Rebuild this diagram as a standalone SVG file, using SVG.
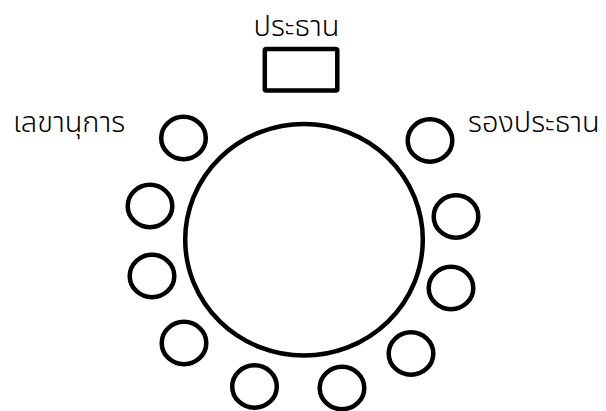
<svg xmlns="http://www.w3.org/2000/svg" width="606" height="411" viewBox="0 0 606 411">
<style>
.seat{fill:none;stroke:#000;stroke-width:4.5}
.lbl{font-family:"Noto Sans Thai","Noto Sans","DejaVu Sans",sans-serif;font-size:29px;font-weight:300;fill:#000}
</style>
<rect width="606" height="411" fill="#fff"/>
<g id="table"><ellipse cx="304" cy="239.7" rx="118.8" ry="115.8" class="seat"/></g>
<g id="chair-president"><rect x="264.8" y="49" width="72.5" height="41.5" rx="1.5" class="seat"/></g>
<g id="label-president"><text x="296.5" y="36" text-anchor="middle" class="lbl">ประธาน</text></g>
<g id="label-secretary"><text x="13" y="132" class="lbl">เลขานุการ</text></g>
<g id="label-vice"><text x="468" y="132" class="lbl">รองประธาน</text></g>
<g id="seat1"><ellipse cx="183.5" cy="138" rx="22.3" ry="21.2" class="seat"/></g>
<g id="seat2"><ellipse cx="150" cy="206" rx="22.3" ry="21.2" class="seat"/></g>
<g id="seat3"><ellipse cx="152" cy="276" rx="22.3" ry="21.2" class="seat"/></g>
<g id="seat4"><ellipse cx="184" cy="343" rx="22.3" ry="21.2" class="seat"/></g>
<g id="seat5"><ellipse cx="254.5" cy="386.5" rx="22.3" ry="21.2" class="seat"/></g>
<g id="seat6"><ellipse cx="342" cy="388" rx="22.3" ry="21.2" class="seat"/></g>
<g id="seat7"><ellipse cx="411" cy="353.5" rx="22.3" ry="21.2" class="seat"/></g>
<g id="seat8"><ellipse cx="451" cy="288" rx="22.3" ry="21.2" class="seat"/></g>
<g id="seat9"><ellipse cx="456" cy="216.5" rx="22.3" ry="21.2" class="seat"/></g>
<g id="seat10"><ellipse cx="430" cy="140.5" rx="22.3" ry="21.2" class="seat"/></g>
<g id="connectors"></g>
</svg>
